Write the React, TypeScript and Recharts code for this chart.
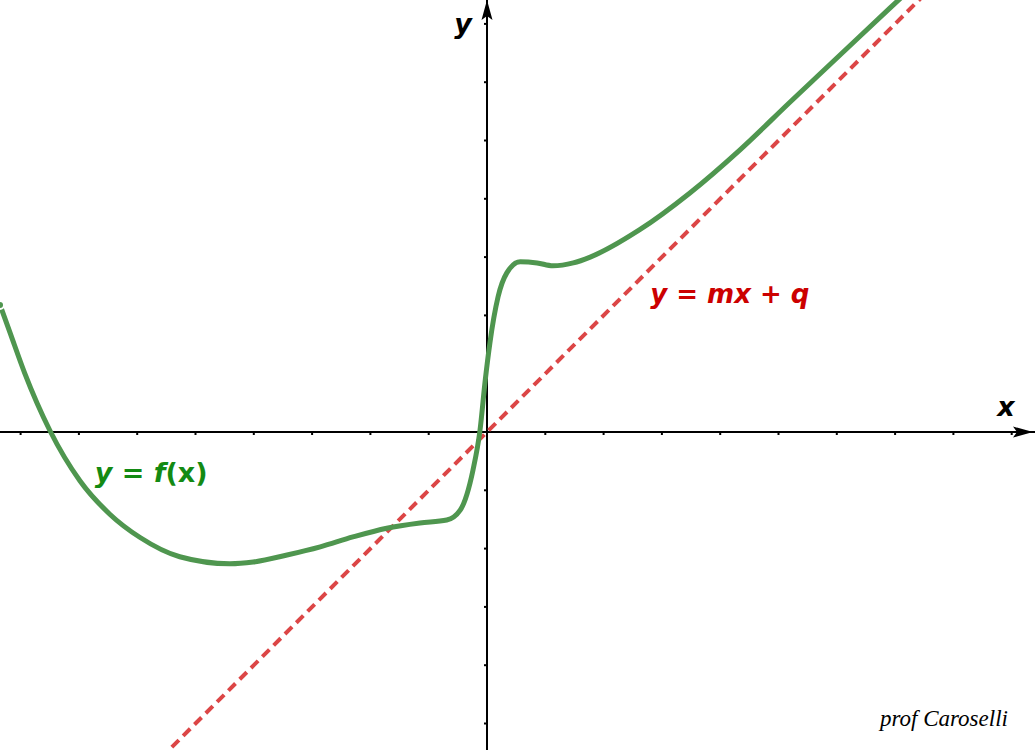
import { LineChart, Line, XAxis, YAxis, ReferenceLine, ReferenceDot } from "recharts";

// f(x) (one unit = one tick)
const curveX = [-8.353, -8.18, -7.93, -7.5, -6.98, -6.47, -5.95, -5.27, -4.41, -4.01, -3.43, -2.86, -2.3, -1.72, -1.15, -0.69, -0.46, -0.24, -0.12, -0.03, 0.05, 0.19, 0.34, 0.57, 0.86, 1.13, 1.48, 1.77, 2.62, 3.48, 4.34, 5.2, 6.06, 6.91, 7.35];
const curveY = [2.18, 1.7, 1.01, 0.03, -0.84, -1.41, -1.81, -2.14, -2.26, -2.23, -2.11, -1.97, -1.8, -1.65, -1.56, -1.51, -1.34, -0.65, 0.03, 0.89, 1.53, 2.32, 2.73, 2.92, 2.9, 2.85, 2.9, 3.0, 3.47, 4.1, 4.84, 5.66, 6.47, 7.27, 7.68];

// y = mx + q (asymptote), endpoints
const lineX = [-5.6, 7.6];
const lineY = [-5.6, 7.6];

const xTicks = [-8, -7, -6, -5, -4, -3, -2, -1, 1, 2, 3, 4, 5, 6, 7, 8, 9];
const yTicks = [-5, -4, -3, -2, -1, 1, 2, 3, 4, 5, 6, 7];

const W = 1035;
const H = 750;
const UNIT = 58.3;
const X_MIN = -487 / UNIT;
const X_MAX = (W - 487) / UNIT;
const Y_MAX = 432 / UNIT;
const Y_MIN = -(H - 432) / UNIT;
const TICK = 3 / UNIT;

const curveData = curveX.map((x, i) => ({ x, y: curveY[i] }));
const lineData = lineX.map((x, i) => ({ x, y: lineY[i] }));

const labelFont = "'DejaVu Sans', sans-serif";

const textShape = (content: React.ReactNode, style: React.CSSProperties) => (props: any) => (
  <text x={props.cx} y={props.cy} style={style}>
    {content}
  </text>
);

export default function App() {
  return (
    <div style={{ position: "absolute", left: 0, top: 0, width: W, height: H, background: "#fff" }}>
      <LineChart width={W} height={H} margin={{ top: 0, right: 0, bottom: 0, left: 0 }}>
        <XAxis dataKey="x" type="number" domain={[X_MIN, X_MAX]} allowDataOverflow hide />
        <YAxis type="number" domain={[Y_MIN, Y_MAX]} allowDataOverflow hide />

        {/* axes */}
        <ReferenceLine y={0} stroke="#000" strokeWidth={2} />
        <ReferenceLine x={0} stroke="#000" strokeWidth={2} />
        {xTicks.map((t) => (
          <ReferenceLine key={"xt" + t} segment={[{ x: t, y: 0 }, { x: t, y: -TICK }]} stroke="#000" strokeWidth={2} />
        ))}
        {yTicks.map((t) => (
          <ReferenceLine key={"yt" + t} segment={[{ x: 0, y: t }, { x: -TICK, y: t }]} stroke="#000" strokeWidth={2} />
        ))}
        <ReferenceDot
          x={X_MAX - 2 / UNIT}
          y={0}
          ifOverflow="visible"
          shape={(p: any) => (
            <polygon
              points={`${p.cx},${p.cy} ${p.cx - 20},${p.cy - 5.5} ${p.cx - 16},${p.cy} ${p.cx - 20},${p.cy + 5.5}`}
              fill="#000"
            />
          )}
        />
        <ReferenceDot
          x={0}
          y={Y_MAX}
          ifOverflow="visible"
          shape={(p: any) => (
            <polygon
              points={`${p.cx},${p.cy} ${p.cx - 5.5},${p.cy + 20} ${p.cx},${p.cy + 16} ${p.cx + 5.5},${p.cy + 20}`}
              fill="#000"
            />
          )}
        />

        <Line
          data={lineData}
          dataKey="y"
          type="linear"
          stroke="#dc4646"
          strokeWidth={4}
          strokeDasharray="10 6"
          dot={false}
          isAnimationActive={false}
        />
        <Line
          data={curveData}
          dataKey="y"
          type="monotone"
          stroke="#4f964f"
          strokeWidth={5}
          dot={false}
          isAnimationActive={false}
        />

        {/* labels */}
        <ReferenceDot
          x={8.75}
          y={0.27}
          ifOverflow="visible"
          shape={textShape("x", { fontFamily: labelFont, fontSize: 27, fontWeight: "bold", fontStyle: "italic", fill: "#000" })}
        />
        <ReferenceDot
          x={-0.56}
          y={6.84}
          ifOverflow="visible"
          shape={textShape("y", { fontFamily: labelFont, fontSize: 27, fontWeight: "bold", fontStyle: "italic", fill: "#000" })}
        />
        <ReferenceDot
          x={-6.73}
          y={-0.86}
          ifOverflow="visible"
          shape={textShape(
            <>
              <tspan fontStyle="italic">y</tspan>
              <tspan> = </tspan>
              <tspan fontStyle="italic">f</tspan>
              <tspan>(x)</tspan>
            </>,
            { fontFamily: labelFont, fontSize: 27, fontWeight: "bold", fill: "#138a13" }
          )}
        />
        <ReferenceDot
          x={2.8}
          y={2.21}
          ifOverflow="visible"
          shape={textShape(
            <>
              <tspan fontStyle="italic">y</tspan>
              <tspan> = </tspan>
              <tspan fontStyle="italic">mx</tspan>
              <tspan> + </tspan>
              <tspan fontStyle="italic">q</tspan>
            </>,
            { fontFamily: labelFont, fontSize: 26, fontWeight: "bold", fill: "#cc0000" }
          )}
        />
        <ReferenceDot
          x={6.74}
          y={-5.04}
          ifOverflow="visible"
          shape={textShape("prof Caroselli", {
            fontFamily: "'Liberation Serif', serif",
            fontSize: 23,
            fontStyle: "italic",
            fill: "#000",
          })}
        />
      </LineChart>
    </div>
  );
}
